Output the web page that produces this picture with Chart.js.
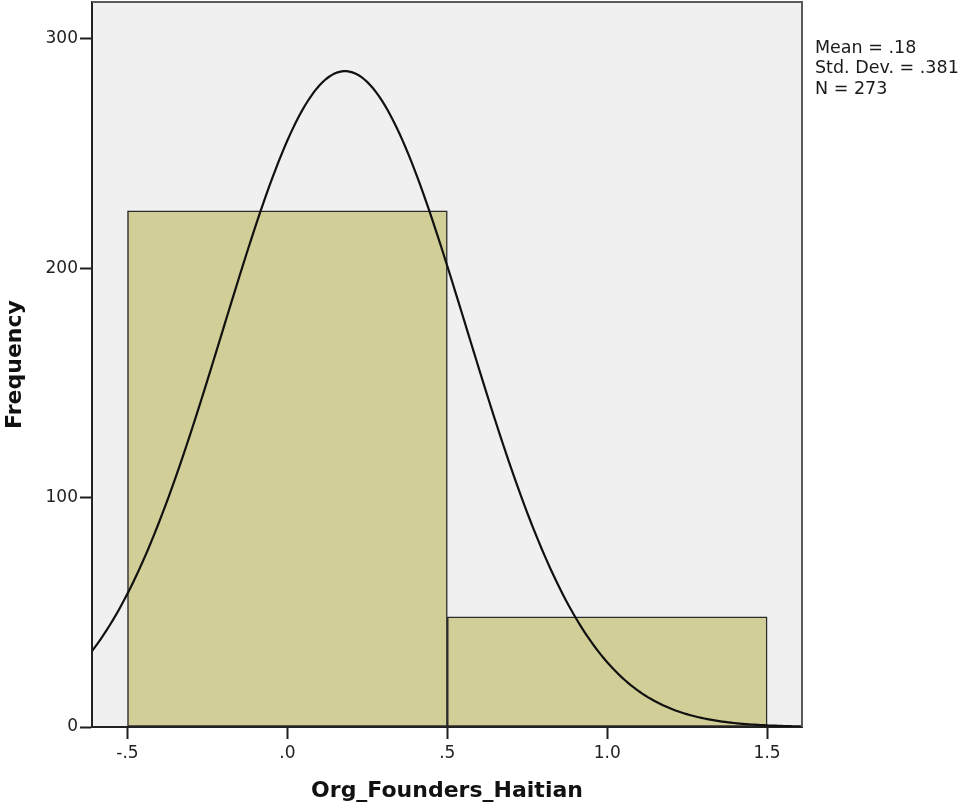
<!DOCTYPE html>
<html>
<head>
<meta charset="utf-8">
<style>
  html, body { margin: 0; padding: 0; background: #ffffff; }
  #wrap { width: 967px; height: 809px; position: relative; }
</style>
<script src="https://cdn.jsdelivr.net/npm/chart.js@4/dist/chart.umd.min.js"></script>
</head>
<body>
<div id="wrap"><canvas id="hist"></canvas></div>
<script>
// Histogram bins (bin centre and frequency)
const binCenters = [0, 1];
const frequencies = [225, 48];
const BIN_WIDTH = 1;

// Summary statistics shown beside the plot; the normal curve uses them too
const MEAN = 0.18;
const STD_DEV = 0.381;
const N = 273;

// Axis ticks and their printed labels
const xTickValues = [-0.5, 0, 0.5, 1.0, 1.5];
const xTickLabels = ['-.5', '.0', '.5', '1.0', '1.5'];
const yTickValues = [0, 100, 200, 300];
const yTickLabels = ['0', '100', '200', '300'];

const X_MIN = -0.611, X_MAX = 1.609;
const Y_MIN = 0, Y_MAX = 316;

const xTitle = 'Org_Founders_Haitian';
const yTitle = 'Frequency';

// SPSS style: drop the leading zero of fractions
function spssNum(v) {
  const s = String(v);
  return s.startsWith('0.') ? s.slice(1) : s;
}
const statLines = [
  'Mean = ' + spssNum(MEAN),
  'Std. Dev. = ' + spssNum(STD_DEV),
  'N = ' + N
];

// Normal curve scaled to the histogram: N * binWidth * pdf(x)
const curvePoints = [];
const steps = 240;
for (let i = 0; i <= steps; i++) {
  const x = X_MIN + (X_MAX - X_MIN) * i / steps;
  const z = (x - MEAN) / STD_DEV;
  const y = N * BIN_WIDTH * Math.exp(-0.5 * z * z) / (STD_DEV * Math.sqrt(2 * Math.PI));
  curvePoints.push({ x, y });
}

const FONT = "'DejaVu Sans', 'Liberation Sans', sans-serif";

// Grey plot background (under the axes) and frame, plus the statistics block
const plotDecor = {
  id: 'plotDecor',
  beforeDraw(chart) {
    const { ctx, chartArea: a } = chart;
    ctx.save();
    ctx.fillStyle = '#f0f0f0';
    ctx.fillRect(a.left, a.top, a.right - a.left, a.bottom - a.top);
    ctx.restore();
  },
  afterDraw(chart) {
    const { ctx, chartArea: a } = chart;
    ctx.save();
    ctx.strokeStyle = '#5a5a5a';
    ctx.lineWidth = 2;
    ctx.beginPath();
    ctx.moveTo(a.left, a.top);
    ctx.lineTo(a.right, a.top);
    ctx.lineTo(a.right, a.bottom);
    ctx.stroke();
    ctx.fillStyle = '#1a1a1a';
    ctx.font = '17.5px ' + FONT;
    ctx.textAlign = 'left';
    ctx.textBaseline = 'alphabetic';
    statLines.forEach((t, i) => ctx.fillText(t, a.right + 13, 53 + i * 20.4));
    ctx.restore();
  }
};

new Chart(document.getElementById('hist'), {
  type: 'bar',
  data: {
    datasets: [
      {
        type: 'line',
        data: curvePoints,
        borderColor: '#111111',
        borderWidth: 2.2,
        pointRadius: 0,
        tension: 0,
        fill: false,
        order: 0
      },
      {
        type: 'bar',
        data: binCenters.map((c, i) => ({ x: c, y: frequencies[i] })),
        backgroundColor: '#d2ce98',
        borderColor: '#2a2a2a',
        borderWidth: 1.5,
        borderSkipped: false,
        barThickness: (ctx) => {
          const s = ctx.chart.scales.x;
          return Math.abs(s.getPixelForValue(BIN_WIDTH) - s.getPixelForValue(0));
        },
        order: 1
      }
    ]
  },
  options: {
    responsive: true,
    maintainAspectRatio: false,
    animation: false,
    layout: { padding: { left: 0, top: 2, right: 165, bottom: 0 } },
    plugins: { legend: { display: false }, tooltip: { enabled: false } },
    scales: {
      x: {
        type: 'linear',
        min: X_MIN,
        max: X_MAX,
        offset: false,
        afterBuildTicks: (s) => { s.ticks = xTickValues.map(v => ({ value: v })); },
        afterFit: (s) => { s.height = 82; s.paddingLeft = 0; s.paddingRight = 0; },
        ticks: {
          autoSkip: false,
          maxRotation: 0,
          padding: 4,
          color: '#222222',
          font: { family: FONT, size: 17 },
          callback: (v) => {
            const i = xTickValues.findIndex(t => Math.abs(t - v) < 1e-9);
            return i >= 0 ? xTickLabels[i] : '';
          }
        },
        grid: { display: true, offset: false, drawOnChartArea: false, drawTicks: true, tickLength: 12, tickColor: '#1e1e1e', tickWidth: 2 },
        border: { display: true, color: '#222222', width: 2 },
        title: {
          display: true,
          text: xTitle,
          color: '#111111',
          font: { family: FONT, size: 22, weight: 'bold' },
          padding: { top: 0, bottom: 5 }
        }
      },
      y: {
        min: Y_MIN,
        max: Y_MAX,
        afterBuildTicks: (s) => { s.ticks = yTickValues.map(v => ({ value: v })); },
        afterFit: (s) => { s.width = 92; s.paddingTop = 0; s.paddingBottom = 0; },
        ticks: {
          padding: 2,
          color: '#222222',
          font: { family: FONT, size: 17 },
          callback: (v) => {
            const i = yTickValues.indexOf(v);
            return i >= 0 ? yTickLabels[i] : '';
          }
        },
        grid: { display: true, drawOnChartArea: false, drawTicks: true, tickLength: 12, tickColor: '#1e1e1e', tickWidth: 2 },
        border: { display: true, color: '#222222', width: 2 },
        title: {
          display: true,
          text: yTitle,
          color: '#111111',
          font: { family: FONT, size: 22, weight: 'bold' },
          padding: { top: 2, bottom: 0 }
        }
      }
    }
  },
  plugins: [plotDecor]
});
</script>
</body>
</html>
